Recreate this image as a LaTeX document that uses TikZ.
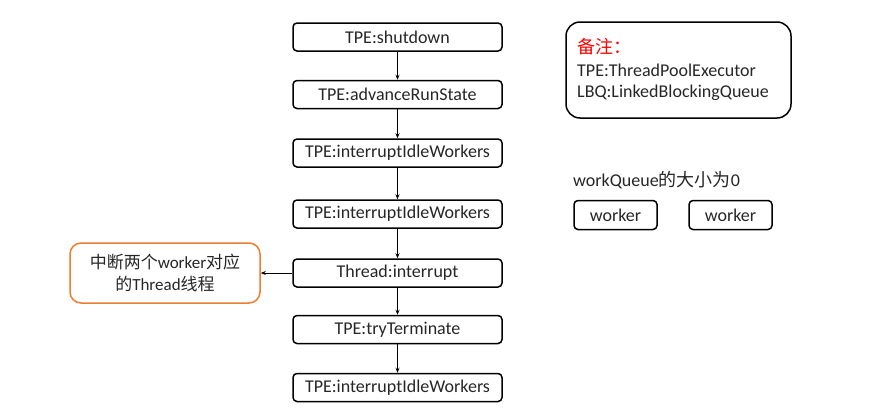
\documentclass[tikz,border=0pt]{standalone}
\usepackage{fontspec}
\setmainfont{Carlito}
\newfontfamily\cjk{Noto Sans CJK SC}
\usetikzlibrary{arrows.meta}
\definecolor{txt}{HTML}{262626}
\definecolor{orng}{HTML}{ED7D31}
\tikzset{
  stepbox/.style={draw=black, line width=1.5pt, rounded corners=4pt, minimum width=209pt, minimum height=28pt, inner sep=0pt, font=\fontsize{18}{20}\selectfont, text=txt},
  wbox/.style={draw=black, line width=1.5pt, rounded corners=4pt, minimum width=83pt, minimum height=29pt, inner sep=0pt, font=\fontsize{18}{20}\selectfont, text=txt},
  conn/.style={line width=0.8pt, -{Stealth[length=5pt,width=4pt]}},
  plain/.style={anchor=west, inner sep=0pt, text=txt, font=\fontsize{18}{20}\selectfont}
}
\begin{document}
\begin{tikzpicture}[x=1pt,y=-1pt]
\useasboundingbox (0,0) rectangle (869,418);
\node[stepbox] (a) at (397.5,37) {TPE:shutdown};
\node[stepbox] (b) at (397.5,94.5) {TPE:advanceRunState};
\node[stepbox] (c) at (397.5,153) {TPE:interruptIdleWorkers};
\node[stepbox] (d) at (397.5,214) {TPE:interruptIdleWorkers};
\node[stepbox] (e) at (397.5,273) {Thread:interrupt};
\node[stepbox] (f) at (397.5,329.5) {TPE:tryTerminate};
\node[stepbox] (g) at (397.5,387.5) {TPE:interruptIdleWorkers};
\node[draw=orng, line width=1.5pt, rounded corners=11pt, minimum width=190pt, minimum height=60pt, inner sep=0pt, align=center, font=\fontsize{17}{22}\selectfont, text=txt] (o) at (165,273) {{\cjk 中断两个}worker{\cjk 对应}\\{\cjk 的}Thread{\cjk 线程}};
\draw[conn] (a) -- (b);
\draw[conn] (b) -- (c);
\draw[conn] (c) -- (d);
\draw[conn] (d) -- (e);
\draw[conn] (e) -- (f);
\draw[conn] (f) -- (g);
\draw[conn] (e) -- (o);
\node[draw=black, line width=1.5pt, rounded corners=14pt, minimum width=225pt, minimum height=96pt, inner sep=0pt] (n) at (678.5,70) {};
\node[plain, text=red, font=\fontsize{18}{20}\cjk] (n1) at (577,47) {备注：};
\node[plain] (n2) at (577,70) {TPE:ThreadPoolExecutor};
\node[plain] (n3) at (577,93) {LBQ:LinkedBlockingQueue};
\node[plain] (q) at (573,180) {workQueue{\cjk 的大小为}0};
\node[wbox] (w1) at (615.5,215) {worker};
\node[wbox] (w2) at (730.5,215) {worker};
\end{tikzpicture}
\end{document}
